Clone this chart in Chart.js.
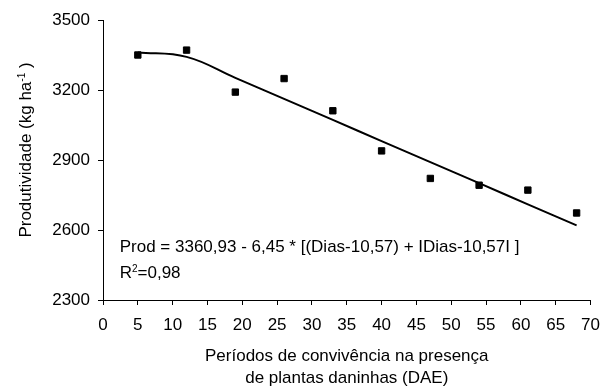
<!DOCTYPE html>
<html>
<head>
<meta charset="utf-8">
<script src="https://cdn.jsdelivr.net/npm/chart.js@4/dist/chart.umd.min.js"></script>
<style>
  html, body { margin: 0; padding: 0; background: #fff; }
  #graphique { display: block; }
</style>
</head>
<body>
<canvas id="graphique" width="610" height="387"></canvas>
<script>
// Jours de convivence (DAE) des observations
const dias = [5, 12, 19, 26, 33, 40, 47, 54, 61, 68];
// Productivité observée (kg/ha)
const produtividade = [3350, 3371, 3191, 3249, 3111, 2939, 2821, 2792, 2771, 2673];
const prodAjustada = [3361, 3342, 3252, 3162, 3072, 2981, 2891, 2801, 2710, 2620];
// Graduations des axes
const ticksX = [0, 5, 10, 15, 20, 25, 30, 35, 40, 45, 50, 55, 60, 65, 70];
const ticksY = [2300, 2600, 2900, 3200, 3500];

// Textes
const tituloX = ["Períodos de convivência na presença", "de plantas daninhas (DAE)"];
const tituloY = "Produtividade (kg ha";
const equacao = "Prod = 3360,93 - 6,45 * [(Dias-10,57) + IDias-10,57I ]";
const r2 = "=0,98";

const police = "'Liberation Sans', Arial, sans-serif";
Chart.defaults.font.family = police;
Chart.defaults.font.size = 17;
Chart.defaults.color = "#000";

// Transforme deux listes en points {x, y}
function versPoints(xs, ys) {
  const points = [];
  for (let i = 0; i < xs.length; i++) {
    points.push({ x: xs[i], y: ys[i] });
  }
  return points;
}

// Dessine le titre vertical (avec exposant) et l'équation
const textes = {
  id: "textes",
  afterDraw(chart) {
    const ctx = chart.ctx;
    const x = chart.scales.x;
    const y = chart.scales.y;
    ctx.save();
    ctx.fillStyle = "#000";
    ctx.textBaseline = "alphabetic";
    ctx.textAlign = "left";

    // Équation et R²
    const xEq = x.getPixelForValue(2.4);
    ctx.font = "17px " + police;
    ctx.fillText(equacao, xEq, y.getPixelForValue(2507));
    const yR = y.getPixelForValue(2395);
    ctx.fillText("R", xEq, yR);
    let dx = ctx.measureText("R").width;
    ctx.font = "10px " + police;
    ctx.fillText("2", xEq + dx, yR - 5.5);
    dx += ctx.measureText("2").width;
    ctx.font = "17px " + police;
    ctx.fillText(r2, xEq + dx, yR);

    // Titre de l'axe Y
    ctx.translate(31, 150);
    ctx.rotate(-Math.PI / 2);
    ctx.font = "17px " + police;
    const l1 = ctx.measureText(tituloY).width;
    const l3 = ctx.measureText(" )").width;
    ctx.font = "10px " + police;
    const l2 = ctx.measureText("-1").width;
    let pos = -(l1 + l2 + l3) / 2;
    ctx.font = "17px " + police;
    ctx.fillText(tituloY, pos, 0);
    pos += l1;
    ctx.font = "10px " + police;
    ctx.fillText("-1", pos, -6);
    pos += l2;
    ctx.font = "17px " + police;
    ctx.fillText(" )", pos, 0);
    ctx.restore();
  },
};

const grille = {
  drawOnChartArea: false,
  drawTicks: true,
  tickLength: 5,
  color: "#000",
  lineWidth: 1,
};

const config = {
  type: "scatter",
  data: {
    datasets: [
      {
        label: "Observado",
        data: versPoints(dias, produtividade),
        pointStyle: "rect",
        pointRadius: 4.5,
        backgroundColor: "#000",
        borderColor: "#000",
        borderWidth: 1,
        showLine: false,
      },
      {
        label: "Ajustado",
        data: versPoints(dias, prodAjustada),
        showLine: true,
        borderColor: "#000",
        borderWidth: 2,
        pointRadius: 0,
        tension: 0.4,
        fill: false,
      },
    ],
  },
  options: {
    responsive: false,
    animation: false,
    events: [],
    layout: { padding: { left: 0, right: 10, top: 20, bottom: 0 } },
    plugins: { legend: { display: false }, tooltip: { enabled: false } },
    scales: {
      x: {
        type: "linear",
        min: ticksX[0],
        max: ticksX[ticksX.length - 1],
        afterBuildTicks: (s) => { s.ticks = ticksX.map((v) => ({ value: v })); },
        afterFit: (s) => { s.height = 87; },
        grid: grille,
        border: { color: "#000", width: 1 },
        ticks: { padding: 10, maxRotation: 0, autoSkip: false, callback: (v) => String(v) },
        title: {
          display: true,
          text: tituloX,
          font: { size: 17, lineHeight: 22 / 17 },
          padding: { top: 0, bottom: -2 },
        },
      },
      y: {
        type: "linear",
        min: ticksY[0],
        max: ticksY[ticksY.length - 1],
        afterBuildTicks: (s) => { s.ticks = ticksY.map((v) => ({ value: v })); },
        afterFit: (s) => { s.width = 103; },
        grid: grille,
        border: { color: "#000", width: 1 },
        ticks: { padding: 8, callback: (v) => String(v) },
      },
    },
  },
  plugins: [textes],
};

const graphique = new Chart(document.querySelector("#graphique"), config);
</script>
</body>
</html>
